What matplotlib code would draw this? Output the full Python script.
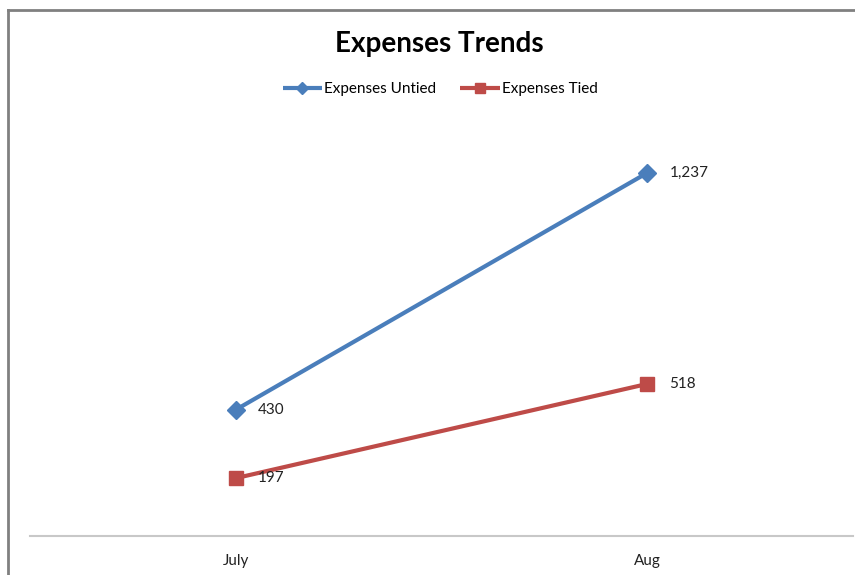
import matplotlib.pyplot as plt
from matplotlib.lines import Line2D

# chart data
months = ["July", "Aug"]
untied = [430, 1237]
tied = [197, 518]

W, H = 855, 575
fig = plt.figure(figsize=(W / 100, H / 100), dpi=100)
plt.rcParams['font.family'] = ['Lato', 'DejaVu Sans']

# plot area in pixel terms, converted to figure fractions
left, right, top, bottom = 30, 853, 125, 536
ax = fig.add_axes([left / W, (H - bottom) / H, (right - left) / W, (bottom - top) / H])

x = list(range(len(months)))
ax.plot(x, untied, color='#4A7EBB', lw=3, marker='D', ms=9,
        label='Expenses Untied', solid_capstyle='butt')
ax.plot(x, tied, color='#BE4B48', lw=3, marker='s', ms=10,
        label='Expenses Tied', solid_capstyle='butt')

for xi, v in zip(x, untied):
    ax.annotate(f"{v:,}", (xi, v), xytext=(16, 0), textcoords='offset points',
                va='center', ha='left', fontsize=11, color='#222222')
for xi, v in zip(x, tied):
    ax.annotate(f"{v:,}", (xi, v), xytext=(16, 0), textcoords='offset points',
                va='center', ha='left', fontsize=11, color='#222222')

ax.set_xlim(-0.5, len(months) - 0.5)
ax.set_ylim(0, 1400)
ax.set_xticks(x)
ax.set_xticklabels(months, fontsize=11, color='#222222')
ax.tick_params(axis='x', length=0, pad=13)
ax.set_yticks([])
for side in ['top', 'right', 'left']:
    ax.spines[side].set_visible(False)
ax.spines['bottom'].set_color('#C8C8C8')
ax.spines['bottom'].set_linewidth(1.5)

fig.text(439 / W, 1 - 44 / H, "Expenses Trends", ha='center', va='center',
         fontsize=20, fontweight='bold')

fig.legend(loc='center', bbox_to_anchor=(440 / W, 1 - 89 / H), ncol=2,
           frameon=False, fontsize=11, handlelength=2.6, handletextpad=0.1,
           columnspacing=1.6, markerscale=0.7)

# outer chart frame (top and left edges visible)
fig.add_artist(Line2D([8 / W, 1.0], [1 - 10 / H, 1 - 10 / H], color='#808080', lw=2))
fig.add_artist(Line2D([8 / W, 8 / W], [0, 1 - 10 / H], color='#808080', lw=2))

fig.savefig('out.png', dpi=100)
